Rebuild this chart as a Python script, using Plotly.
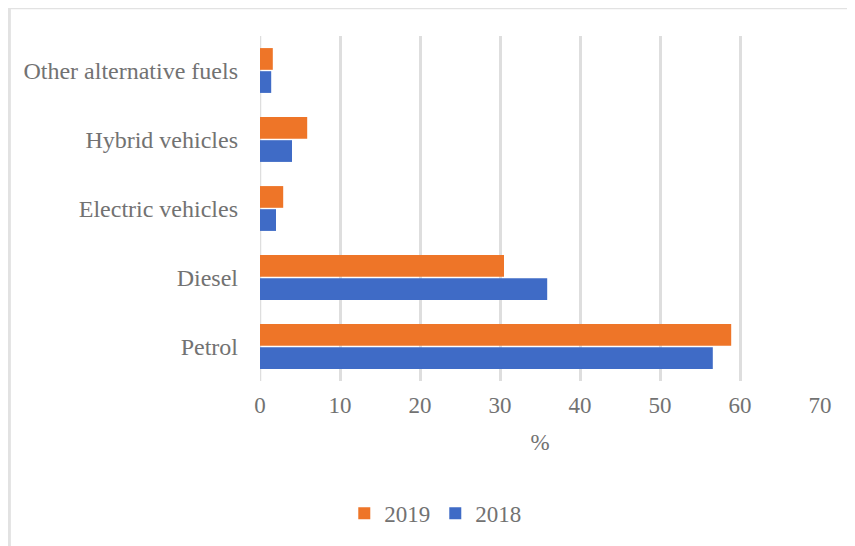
import plotly.graph_objects as go

categories = ["Petrol", "Diesel", "Electric vehicles", "Hybrid vehicles", "Other alternative fuels"]
values_2018 = [56.6, 35.9, 2.0, 4.0, 1.4]
values_2019 = [58.9, 30.5, 2.9, 5.9, 1.6]
x_ticks = [0, 10, 20, 30, 40, 50, 60, 70]

FONT = "Liberation Serif, Times New Roman, serif"
GRAY = "#727272"

fig = go.Figure()
fig.add_trace(go.Bar(y=categories, x=values_2018, orientation="h", name="2018",
                     marker=dict(color="#3F6BC6", line=dict(width=0))))
fig.add_trace(go.Bar(y=categories, x=values_2019, orientation="h", name="2019",
                     marker=dict(color="#EE7528", line=dict(width=0))))

# page body has an 8px offset; figure sized to fill the rest of the window
fig.update_layout(
    width=847, height=538,
    barmode="group", bargap=0.33, bargroupgap=0.06,
    plot_bgcolor="white", paper_bgcolor="white",
    margin=dict(l=252, r=35, t=28, b=165, autoexpand=False),
    font=dict(family=FONT, size=23, color=GRAY),
    showlegend=True,
    legend=dict(orientation="h", traceorder="reversed", x=0.313, xanchor="center",
                yref="container", y=0.061, yanchor="middle",
                font=dict(size=23, color=GRAY), itemwidth=30),
    xaxis=dict(range=[0, 70], tickvals=x_ticks, showgrid=True, gridcolor="#dedede",
               gridwidth=2.5, zeroline=False, showline=False,
               title=dict(text="%", standoff=16, font=dict(size=23, color=GRAY)),
               tickfont=dict(size=23, color=GRAY), ticks="", ticklabelstandoff=8),
    yaxis=dict(showgrid=False, zeroline=False, showline=False, ticks="",
               tickfont=dict(size=24, color=GRAY), ticklabelstandoff=21),
    shapes=[dict(type="line", xref="x", yref="paper", x0=0, x1=0, y0=0, y1=1,
                 line=dict(color="#dedede", width=2.5), layer="below"),
            dict(type="line", xref="paper", yref="paper", x0=-0.4475, x1=1.2,
                 y0=1.082, y1=1.082, line=dict(color="#e2e2e2", width=3)),
            dict(type="line", xref="paper", yref="paper", x0=-0.4475, x1=-0.4475,
                 y0=-0.6, y1=1.082, line=dict(color="#e2e2e2", width=3))],
)

fig.write_html("out.html")
